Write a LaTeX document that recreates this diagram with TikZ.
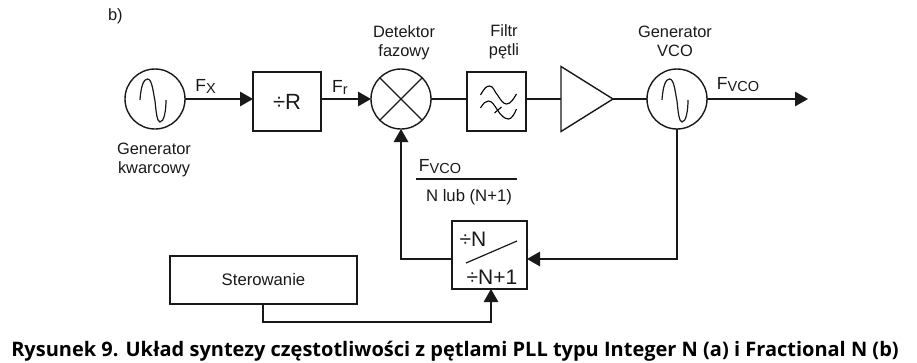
\documentclass[tikz,border=0pt]{standalone}
\usepackage{fontspec}
\setmainfont{Liberation Sans}
\newfontfamily\capfont{Open Sans}
\usetikzlibrary{arrows.meta,shapes.geometric,calc}
\newcommand{\fs}[1]{\fontsize{#1}{#1}\selectfont}
\newcommand{\lab}[2]{{\fs{17.5}#1}{\fs{14.5}\raisebox{-2.5pt}{#2}}}
\tikzset{
  every node/.style={inner sep=0pt,outer sep=0pt,text=black!90},
  ln/.style={line width=1.4pt,draw=black!90},
  arr/.style={ln,-{Triangle[length=13pt,width=14.5pt]}},
  osc/.style={ln,circle,minimum size=60pt},
  blk/.style={ln,rectangle},
  small/.style={font=\fontsize{16.4}{19}\selectfont,align=center},
  sinewave/.pic={\draw[line width=1.2pt,draw=black!90] (-15,1) .. controls (-14,-14) and (-11,-20) .. (-7.5,-20) .. controls (-3,-20) and (-2,-8) .. (0,2) .. controls (1,12) and (2,23) .. (5,23) .. controls (9,23) and (11,12) .. (11,1);}
}
\begin{document}
\begin{tikzpicture}[x=1pt,y=-1pt]
\useasboundingbox (0,0) rectangle (917,362);
\node[small,anchor=west] (b) at (108,16) {b)};
\node[osc] (gen) at (155,99) {};
\pic at (155,99) {sinewave};
\node[blk,minimum width=68pt,minimum height=59pt] (r) at (287,101.5) {\raisebox{-2pt}{\fs{22}÷R}};
\node[osc] (det) at (401,99) {};
\draw[ln,line width=1.2pt] (det.45) -- (det.225) (det.135) -- (det.315);
\node[blk,minimum width=59pt,minimum height=59pt] (fil) at (496.5,101.5) {};
\begin{scope}[shift={(496.5,101)},line width=1.1pt]
\draw (-16,-6) .. controls (-12,-13) and (-10,-15) .. (-7,-15) .. controls (-3,-15) and (-2,-9) .. (1,-6) .. controls (4,-1) and (7,3) .. (10,3) .. controls (14,3) and (17,-2) .. (20,-7);
\draw (-16,7) .. controls (-13,2) and (-11,0) .. (-8,0) .. controls (-4,0) and (-2,5) .. (1,9) .. controls (4,14) and (8,18) .. (12,18) .. controls (15,18) and (18,13) .. (20,8);
\draw (-2,12) -- (5,6);
\end{scope}
\node[ln,isosceles triangle,isosceles triangle apex angle=64,minimum height=52pt,minimum width=65pt,anchor=apex,shape border rotate=0] (amp) at (613,99) {};
\node[osc] (vco) at (677,99) {};
\pic at (677,99) {sinewave};
\node[blk,minimum width=75pt,minimum height=68pt] (div) at (489.5,255) {};
\node[font=\fs{21}] (dn) at (473,239) {÷N};
\node[font=\fs{21}] (dn1) at (492,277) {÷N+1};
\draw[ln,line width=1.2pt] (466,263) -- (517,241);
\node[blk,minimum width=187pt,minimum height=48pt] (ster) at (263.5,280) {\fs{16.7}Sterowanie};
\coordinate (out) at (808,99);
\coordinate (c1) at (263,322);
\coordinate (c2) at (491,322);
\draw[arr] (gen.east) -- (r.west |- gen.east);
\draw[arr] (r.east |- det.west) -- (det.west);
\draw[ln] (det.east) -- (fil.west |- det.east);
\draw[ln] (fil.east |- amp.apex) -- (amp.west |- amp.apex);
\draw[ln] (amp.apex) -- (vco.west);
\draw[arr] (vco.east) -- (out);
\draw[arr] (vco.south) |- ($(div.east)+(0,4)$);
\draw[arr] ($(div.west)+(0,4)$) -| (det.south);
\draw[arr] (ster.south -| c1) -- (c1) -- (c2) -- (div.south -| c2);
\draw[ln,line width=1.2pt] (416,179) -- (517,179);
\node[small] (lgen) at (154,160) {Generator\\kwarcowy};
\node[small] (ldet) at (404,43) {Detektor\\fazowy};
\node[small] (lfil) at (504,42) {Filtr\\pętli};
\node[small] (lvco) at (675,41) {Generator\\VCO};
\node[anchor=base] (fx) at (205.5,91) {\lab{F}{X}};
\node[anchor=base] (fr) at (340,92) {\lab{F}{r}};
\node[anchor=base] (fv1) at (440,171) {\lab{F}{VCO}};
\node[anchor=base] (fv2) at (738,89) {\lab{F}{VCO}};
\node[font=\fs{16.7}] (nl) at (469,197) {N lub (N+1)};
\node[font=\capfont\bfseries\fs{20},text=black,anchor=base] (cap) at (455,356) {Rysunek 9. Układ syntezy częstotliwości z pętlami PLL typu Integer N (a) i Fractional N (b)};
\end{tikzpicture}
\end{document}
